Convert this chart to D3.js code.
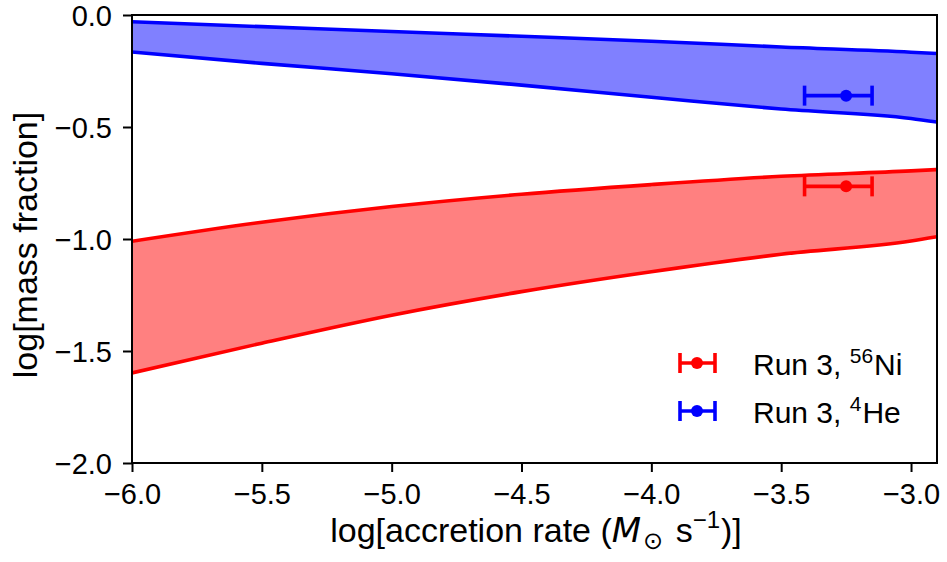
<!DOCTYPE html>
<html>
<head>
<meta charset="utf-8">
<script src="https://cdn.jsdelivr.net/npm/d3@7"></script>
<style>
  html, body { margin: 0; padding: 0; background: #fff; }
  svg { display: block; }
  text { font-family: "Liberation Sans", Arial, Helvetica, sans-serif; fill: #000; }
</style>
</head>
<body>
<svg id="chart" width="947" height="562"></svg>
<script>
// log accretion rate sample points
const logRate = [-6.0, -5.5, -5.0, -4.5, -4.0, -3.5, -3.0, -2.9];

// 4He mass-fraction band (upper / lower edge)
const heUpper = [-0.030, -0.052, -0.074, -0.095, -0.117, -0.143, -0.166, -0.172];
const heLower = [-0.165, -0.216, -0.262, -0.313, -0.367, -0.420, -0.462, -0.478];

// 56Ni mass-fraction band (upper / lower edge)
const niUpper = [-1.010, -0.925, -0.855, -0.800, -0.757, -0.720, -0.696, -0.690];
const niLower = [-1.598, -1.465, -1.340, -1.235, -1.146, -1.068, -1.009, -0.990];

// Run 3 measurements: x centre with asymmetric x range, y value
const runPoints = [
  { name: "Ni", x: -3.25, xLo: -3.41, xHi: -3.15, y: -0.765, color: "#ff0000" },
  { name: "He", x: -3.25, xLo: -3.41, xHi: -3.15, y: -0.360, color: "#0000ff" }
];

const xTicks = [-6.0, -5.5, -5.0, -4.5, -4.0, -3.5, -3.0];
const yTicks = [0.0, -0.5, -1.0, -1.5, -2.0];

const svg = d3.select("#chart");
const m = { left: 132, right: 937, top: 15, bottom: 463 };

const x = d3.scaleLinear().domain([-6.0, -2.9]).range([m.left, m.right]);
const y = d3.scaleLinear().domain([-2.0, 0.0]).range([m.bottom, m.top]);

const fmt = v => d3.format(".1f")(v).replace("-", "\u2212");

const clipId = "plotclip";
svg.append("clipPath").attr("id", clipId)
  .append("rect").attr("x", m.left).attr("y", m.top)
  .attr("width", m.right - m.left).attr("height", m.bottom - m.top);

const plot = svg.append("g").attr("clip-path", `url(#${clipId})`);

function band(upper, lower, stroke, fill) {
  const rows = logRate.map((r, i) => ({ r, hi: upper[i], lo: lower[i] }));
  const area = d3.area().curve(d3.curveMonotoneX)
    .x(d => x(d.r)).y0(d => y(d.lo)).y1(d => y(d.hi));
  plot.append("path").datum(rows).attr("d", area)
    .attr("fill", fill).attr("stroke", "none");
  for (const key of ["hi", "lo"]) {
    const line = d3.line().curve(d3.curveMonotoneX)
      .x(d => x(d.r)).y(d => y(d[key]));
    plot.append("path").datum(rows).attr("d", line)
      .attr("fill", "none").attr("stroke", stroke).attr("stroke-width", 3.6);
  }
}

band(heUpper, heLower, "#0000ff", "#8080ff");
band(niUpper, niLower, "#ff0000", "#ff8080");

// error bars with caps
function errBar(g, cx, lo, hi, cy, color, capH) {
  g.append("line").attr("x1", lo).attr("x2", hi).attr("y1", cy).attr("y2", cy)
    .attr("stroke", color).attr("stroke-width", 3.6);
  for (const px of [lo, hi]) {
    g.append("line").attr("x1", px).attr("x2", px)
      .attr("y1", cy - capH / 2).attr("y2", cy + capH / 2)
      .attr("stroke", color).attr("stroke-width", 3.6);
  }
  g.append("circle").attr("cx", cx).attr("cy", cy).attr("r", 6).attr("fill", color);
}

runPoints.forEach(p => errBar(plot, x(p.x), x(p.xLo), x(p.xHi), y(p.y), p.color, 20));

// axes
const xAxis = svg.append("g").attr("transform", `translate(0,${m.bottom})`)
  .call(d3.axisBottom(x).tickValues(xTicks).tickSize(9).tickPadding(11).tickFormat(fmt));
const yAxis = svg.append("g").attr("transform", `translate(${m.left},0)`)
  .call(d3.axisLeft(y).tickValues(yTicks).tickSize(9).tickPadding(11).tickFormat(fmt));

[xAxis, yAxis].forEach(a => {
  a.select(".domain").remove();
  a.selectAll(".tick line").attr("stroke", "#000").attr("stroke-width", 2);
  a.selectAll(".tick text").style("font-size", "29px")
    .style("font-family", "'Liberation Sans', Arial, sans-serif").attr("fill", "#000");
});
xAxis.selectAll(".tick text").attr("dy", "0.72em");
yAxis.selectAll(".tick text").attr("dy", "0.36em");

// frame
svg.append("rect").attr("x", m.left).attr("y", m.top)
  .attr("width", m.right - m.left).attr("height", m.bottom - m.top)
  .attr("fill", "none").attr("stroke", "#000").attr("stroke-width", 2);

// axis labels
const xl = svg.append("text").attr("x", 536).attr("y", 542)
  .attr("text-anchor", "middle").style("font-size", "34px");
xl.append("tspan").text("log[accretion rate (");
xl.append("tspan").text("M").style("font-style", "italic")
  .style("font-family", "'DejaVu Sans', sans-serif");
xl.append("tspan").text("\u2299").attr("dy", 7).attr("dx", 2).style("font-size", "24px")
  .style("font-family", "'DejaVu Sans', sans-serif");
xl.append("tspan").text(" s").attr("dy", -7).attr("dx", 3);
xl.append("tspan").text("\u22121").attr("dy", -14).style("font-size", "24px");
xl.append("tspan").text(")]").attr("dy", 14).attr("dx", 1);

svg.append("text")
  .attr("transform", `translate(37,245) rotate(-90)`)
  .attr("text-anchor", "middle").style("font-size", "34px")
  .text("log[mass fraction]");

// legend
const legend = svg.append("g");
const legendItems = [
  { p: runPoints[0], label: "Run 3, ", sup: "56", tail: "Ni", yy: 363 },
  { p: runPoints[1], label: "Run 3, ", sup: "4", tail: "He", yy: 411 }
];
legendItems.forEach(it => {
  errBar(legend, 697, 680, 715, it.yy, it.p.color, 20);
  const t = legend.append("text").attr("x", 753).attr("y", it.yy + 12)
    .style("font-size", "30px");
  t.append("tspan").text(it.label);
  t.append("tspan").text(it.sup).attr("dy", -12).style("font-size", "21px");
  t.append("tspan").text(it.tail).attr("dy", 12).attr("dx", 1);
});
</script>
</body>
</html>
